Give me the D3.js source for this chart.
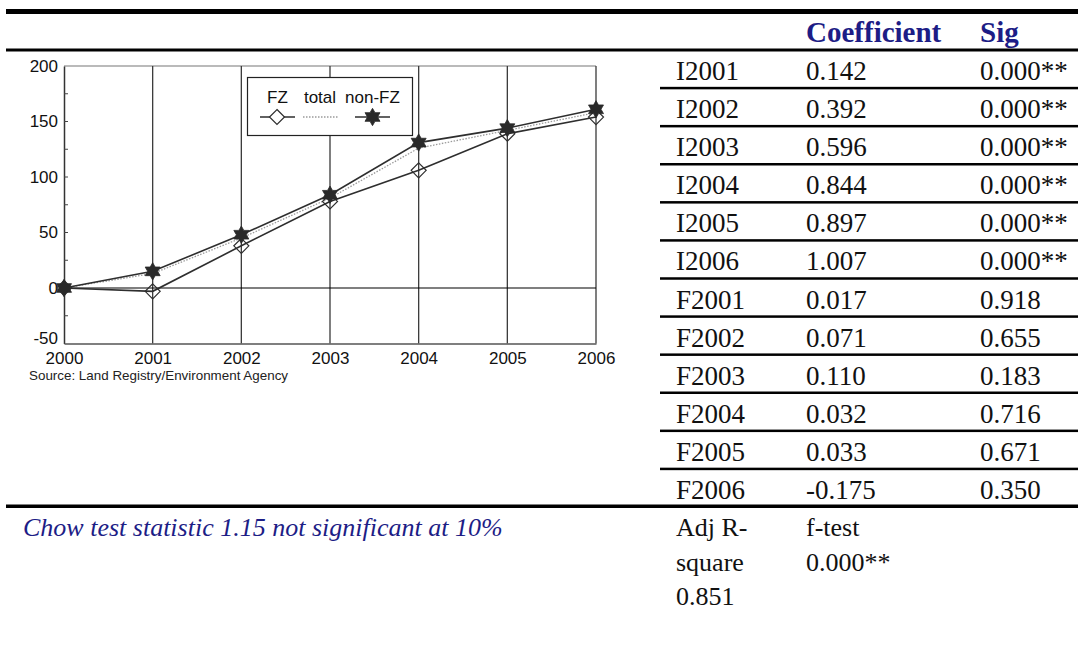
<!DOCTYPE html>
<html>
<head>
<meta charset="utf-8">
<script src="https://cdn.jsdelivr.net/npm/d3@7"></script>
<style>
  body { margin: 0; background: #fff; }
  svg { display: block; }
</style>
</head>
<body>
<svg id="page" width="1078" height="646"></svg>
<script>
// House price index by year (2000 = 0)
const years = [2000, 2001, 2002, 2003, 2004, 2005, 2006];
const fzValues = [0, -3, 38, 78, 106, 139, 154];
const totalValues = [0, 13, 45, 81, 126, 142, 158];
const nonFzValues = [0, 15, 48, 84, 131, 144, 161];
const yTickValues = [-50, 0, 50, 100, 150, 200];

// Regression output
const rowLabels = ["I2001", "I2002", "I2003", "I2004", "I2005", "I2006",
                   "F2001", "F2002", "F2003", "F2004", "F2005", "F2006"];
const coefficients = ["0.142", "0.392", "0.596", "0.844", "0.897", "1.007",
                      "0.017", "0.071", "0.110", "0.032", "0.033", "-0.175"];
const sigValues = ["0.000**", "0.000**", "0.000**", "0.000**", "0.000**", "0.000**",
                   "0.918", "0.655", "0.183", "0.716", "0.671", "0.350"];
const headers = ["Coefficient", "Sig"];

const svg = d3.select("#page");
const navy = "#1d1d86";
const serif = "'Liberation Serif', 'DejaVu Serif', serif";
const sans = "'Liberation Sans', Arial, sans-serif";

// ---------- rules ----------
svg.append("rect").attr("x", 6).attr("y", 9).attr("width", 1072).attr("height", 5).attr("fill", "#000");
svg.append("rect").attr("x", 6).attr("y", 48.5).attr("width", 1072).attr("height", 3).attr("fill", "#000");

// ---------- table ----------
const rowY = d3.scaleLinear().domain([0, 12]).range([50, 507]);
const colX = { label: 676, coef: 806, sig: 980 };

svg.selectAll("text.hdr").data(headers).join("text")
  .attr("class", "hdr")
  .attr("x", (d, i) => i === 0 ? colX.coef : colX.sig)
  .attr("y", 42)
  .attr("font-family", serif).attr("font-weight", "bold").attr("font-size", 29)
  .attr("fill", navy)
  .text(d => d);

const rows = svg.selectAll("g.row").data(rowLabels).join("g").attr("class", "row");
rows.append("text")
  .attr("x", colX.label).attr("y", (d, i) => rowY(i) + 30)
  .attr("font-family", serif).attr("font-size", 27).attr("fill", "#111")
  .text(d => d);
rows.append("text")
  .attr("x", colX.coef).attr("y", (d, i) => rowY(i) + 30)
  .attr("font-family", serif).attr("font-size", 27).attr("fill", "#111")
  .text((d, i) => coefficients[i]);
rows.append("text")
  .attr("x", colX.sig).attr("y", (d, i) => rowY(i) + 30)
  .attr("font-family", serif).attr("font-size", 27).attr("fill", "#111")
  .text((d, i) => sigValues[i]);
// row separators
svg.selectAll("rect.sep").data(d3.range(1, 12)).join("rect")
  .attr("class", "sep")
  .attr("x", 660).attr("y", d => rowY(d) - 1.25)
  .attr("width", 418).attr("height", 2.5).attr("fill", "#000");
// bottom rule
svg.append("rect").attr("x", 6).attr("y", rowY(12) - 2.5).attr("width", 1072).attr("height", 3.5).attr("fill", "#000");

// footer notes
svg.append("text").attr("x", 23).attr("y", 536)
  .attr("font-family", serif).attr("font-style", "italic").attr("font-size", 26)
  .attr("fill", navy)
  .text("Chow test statistic 1.15 not significant at 10%");
const footLeft = ["Adj R-", "square", "0.851"];
const footMid = ["f-test", "0.000**"];
svg.selectAll("text.fl").data(footLeft).join("text").attr("class", "fl")
  .attr("x", colX.label).attr("y", (d, i) => 536 + i * 34.5)
  .attr("font-family", serif).attr("font-size", 26).attr("fill", "#111").text(d => d);
svg.selectAll("text.fm").data(footMid).join("text").attr("class", "fm")
  .attr("x", colX.coef).attr("y", (d, i) => 536 + i * 34.5)
  .attr("font-family", serif).attr("font-size", 26).attr("fill", "#111").text(d => d);

// ---------- chart ----------
const x = d3.scaleLinear().domain([2000, 2006]).range([64, 596]);
const y = d3.scaleLinear().domain([-50, 200]).range([343.5, 66]);
const chart = svg.append("g");

// top frame
chart.append("line").attr("x1", x(2000)).attr("x2", x(2006)).attr("y1", y(200)).attr("y2", y(200))
  .attr("stroke", "#777").attr("stroke-width", 1.2);
// vertical grid at each year
chart.selectAll("line.vg").data(years.slice(1)).join("line").attr("class", "vg")
  .attr("x1", d => x(d)).attr("x2", d => x(d)).attr("y1", y(200)).attr("y2", y(-50))
  .attr("stroke", "#3a3a3a").attr("stroke-width", 1.3);
// zero line
chart.append("line").attr("x1", x(2000)).attr("x2", x(2006)).attr("y1", y(0)).attr("y2", y(0))
  .attr("stroke", "#000").attr("stroke-width", 1.2);

// axes
const yAxis = d3.axisLeft(y).tickValues(yTickValues).tickFormat(d => String(d)).tickSize(0).tickPadding(6);
const gy = chart.append("g").attr("transform", `translate(${x(2000)},0)`).call(yAxis);
gy.select(".domain").attr("stroke", "#333").attr("stroke-width", 1.5);
gy.selectAll("text").attr("font-family", sans).attr("font-size", 17).attr("fill", "#111");
// lift the lowest label clear of the first year label
gy.selectAll(".tick").filter(d => d === -50).select("text").attr("y", -5);
// inward minor ticks
chart.selectAll("line.my").data(d3.range(-25, 200, 25)).join("line").attr("class", "my")
  .attr("x1", x(2000)).attr("x2", x(2000) + 4).attr("y1", d => y(d)).attr("y2", d => y(d))
  .attr("stroke", "#444").attr("stroke-width", 1);

const xAxis = d3.axisBottom(x).tickValues(years).tickFormat(d3.format("d")).tickSize(0).tickPadding(8.5);
const gx = chart.append("g").attr("transform", `translate(0,${y(-50)})`).call(xAxis);
gx.select(".domain").attr("stroke", "#555").attr("stroke-width", 1.5);
gx.selectAll("text").attr("font-family", sans).attr("font-size", 17).attr("fill", "#111");

chart.append("text").attr("x", 29).attr("y", 380)
  .attr("font-family", sans).attr("font-size", 13.4).attr("fill", "#222")
  .text("Source: Land Registry/Environment Agency");

// six-pointed star symbol
const hexStar = {
  draw(ctx, size) {
    const R = Math.sqrt(size) / 2;
    const r = R / Math.sqrt(3);
    for (let k = 0; k < 12; k++) {
      const a = -Math.PI / 2 + k * Math.PI / 6;
      const rad = k % 2 === 0 ? R : r;
      const px = rad * Math.cos(a), py = rad * Math.sin(a);
      if (k === 0) ctx.moveTo(px, py); else ctx.lineTo(px, py);
    }
    ctx.closePath();
  }
};
const diamond = {
  draw(ctx, size) {
    const h = Math.sqrt(size) / 2;
    ctx.moveTo(0, -h); ctx.lineTo(h, 0); ctx.lineTo(0, h); ctx.lineTo(-h, 0); ctx.closePath();
  }
};

const line = d3.line().x((d, i) => x(years[i])).y(d => y(d));

chart.append("path").datum(totalValues).attr("d", line)
  .attr("fill", "none").attr("stroke", "#9a9a9a").attr("stroke-width", 1.3).attr("stroke-dasharray", "1.5,1.5");
chart.append("path").datum(fzValues).attr("d", line)
  .attr("fill", "none").attr("stroke", "#2e2e2e").attr("stroke-width", 1.6);
chart.append("path").datum(nonFzValues).attr("d", line)
  .attr("fill", "none").attr("stroke", "#2e2e2e").attr("stroke-width", 1.6);

const diamondPath = d3.symbol().type(diamond).size(225)();
const starPath = d3.symbol().type(hexStar).size(300)();

chart.selectAll("path.dm").data(fzValues).join("path").attr("class", "dm")
  .attr("d", diamondPath)
  .attr("transform", (d, i) => `translate(${x(years[i])},${y(d)})`)
  .attr("fill", "#fff").attr("fill-opacity", 0).attr("stroke", "#2e2e2e").attr("stroke-width", 1.2);
chart.selectAll("path.st").data(nonFzValues).join("path").attr("class", "st")
  .attr("d", starPath)
  .attr("transform", (d, i) => `translate(${x(years[i])},${y(d)})`)
  .attr("fill", "#2a2a2a").attr("stroke", "#2a2a2a").attr("stroke-width", 0.8);

// legend
const leg = chart.append("g");
leg.append("rect").attr("x", 247.5).attr("y", 77.5).attr("width", 165).attr("height", 58)
  .attr("fill", "#fff").attr("stroke", "#222").attr("stroke-width", 1.2);
const legItems = [
  { name: "FZ", tx: 277.5 },
  { name: "total", tx: 320 },
  { name: "non-FZ", tx: 372.5 }
];
leg.selectAll("text").data(legItems).join("text")
  .attr("x", d => d.tx).attr("y", 103).attr("text-anchor", "middle")
  .attr("font-family", sans).attr("font-size", 17).attr("fill", "#111")
  .text(d => d.name);
leg.append("line").attr("x1", 260).attr("x2", 295).attr("y1", 117).attr("y2", 117)
  .attr("stroke", "#2e2e2e").attr("stroke-width", 1.6);
leg.append("path").attr("d", diamondPath).attr("transform", "translate(277,117)")
  .attr("fill", "#fff").attr("stroke", "#2e2e2e").attr("stroke-width", 1.2);
leg.append("line").attr("x1", 303).attr("x2", 338).attr("y1", 117).attr("y2", 117)
  .attr("stroke", "#9a9a9a").attr("stroke-width", 1.3).attr("stroke-dasharray", "1.5,1.5");
leg.append("line").attr("x1", 355).attr("x2", 390).attr("y1", 117).attr("y2", 117)
  .attr("stroke", "#2e2e2e").attr("stroke-width", 1.6);
leg.append("path").attr("d", starPath).attr("transform", "translate(372.5,117)")
  .attr("fill", "#2a2a2a").attr("stroke", "#2a2a2a").attr("stroke-width", 0.8);
</script>
</body>
</html>
